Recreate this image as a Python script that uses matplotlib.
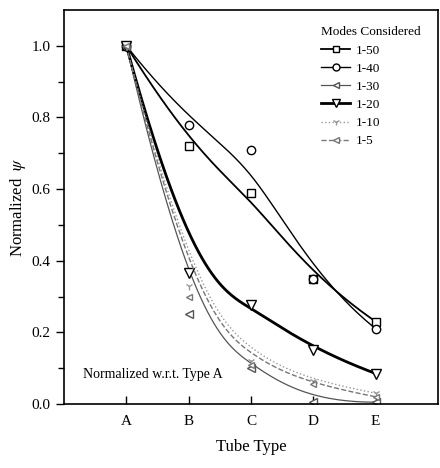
import numpy as np
import matplotlib
matplotlib.use('Agg')
import matplotlib.pyplot as plt

plt.rcParams['font.family'] = ['Liberation Serif', 'DejaVu Serif']
plt.rcParams['mathtext.fontset'] = 'stix'

# Dados
tipos = ['A', 'B', 'C', 'D', 'E']
modos = ['1-50', '1-40', '1-30', '1-20', '1-10', '1-5']
psi_50 = [1.0, 0.72, 0.59, 0.35, 0.23]
psi_40 = [1.0, 0.78, 0.71, 0.35, 0.21]
psi_30 = [1.0, 0.25, 0.10, 0.005, 0.005]
psi_20 = [1.0, 0.365, 0.275, 0.15, 0.085]
psi_10 = [1.0, 0.33, 0.12, 0.065, 0.03]
psi_5 = [1.0, 0.30, 0.11, 0.055, 0.02]


# B-spline cúbica com pontos de controle (como a linha "B-Spline" do Origin)
def bspline(px, py, n=200):
    px = np.asarray(px, float)
    py = np.asarray(py, float)
    k = 3
    m = len(px)
    knots = np.concatenate([np.zeros(k), np.arange(m - k + 1), np.full(k, m - k)])
    ts = np.linspace(0, m - k, n)
    xs, ys = [], []
    for t in ts:
        i = np.searchsorted(knots, t, side='right') - 1
        i = min(max(i, k), m - 1)
        dx = [px[j + i - k] for j in range(k + 1)]
        dy = [py[j + i - k] for j in range(k + 1)]
        for r in range(1, k + 1):
            for j in range(k, r - 1, -1):
                den = knots[j + 1 + i - r] - knots[j + i - k]
                a = 0 if den == 0 else (t - knots[j + i - k]) / den
                dx[j] = (1 - a) * dx[j - 1] + a * dx[j]
                dy[j] = (1 - a) * dy[j - 1] + a * dy[j]
        xs.append(dx[k])
        ys.append(dy[k])
    return np.array(xs), np.array(ys)


x = np.arange(1, len(tipos) + 1)

estilos = [
    (psi_50, dict(color='black', lw=1.3, ls='-', marker='s', ms=6)),
    (psi_40, dict(color='black', lw=1.0, ls='-', marker='o', ms=6)),
    (psi_30, dict(color='#555555', lw=0.9, ls='-', marker='<', ms=6)),
    (psi_20, dict(color='black', lw=2.0, ls='-', marker='v', ms=7)),
    (psi_10, dict(color='#999999', lw=1.0, ls=':', marker='1', ms=6)),
    (psi_5, dict(color='#777777', lw=1.0, ls='--', marker='<', ms=5)),
]

fig = plt.figure(figsize=(4.4, 4.68), dpi=100)
ax = fig.add_axes([0.1455, 0.1368, 0.85, 0.842])

for (vals, st), nome in zip(estilos, modos):
    cx, cy = bspline(x, vals)
    ax.plot(cx, cy, color=st['color'], lw=st['lw'], ls=st['ls'])
    ax.plot(x, vals, ls='none', marker=st['marker'], ms=st['ms'],
            mfc='white', mec=st['color'], mew=1.0)
    ax.plot([], [], color=st['color'], lw=st['lw'], ls=st['ls'],
            marker=st['marker'], ms=st['ms'] - 1, mfc='white', mec=st['color'],
            label=nome)

ax.set_xlim(0, 6)
ax.set_ylim(0.0, 1.1)
ax.set_xticks(x)
ax.set_xticklabels(tipos)
ax.set_yticks(np.arange(0, 1.01, 0.2))
ax.set_yticks(np.arange(0.1, 1.1, 0.2), minor=True)
ax.yaxis.set_major_formatter(matplotlib.ticker.FormatStrFormatter('%.1f'))
ax.tick_params(axis='y', direction='out', length=6, width=1, labelsize=11)
ax.tick_params(axis='y', which='minor', direction='out', length=4, width=1)
ax.tick_params(axis='x', direction='in', length=6, width=1, labelsize=11, pad=8)
for s in ax.spines.values():
    s.set_linewidth(1.2)

ax.set_xlabel('Tube Type', fontsize=12, labelpad=8)
ax.set_ylabel(r'Normalized  $\psi$', fontsize=12, labelpad=3)
ax.text(0.3, 0.073, 'Normalized w.r.t. Type A', fontsize=10)

leg = ax.legend(title='Modes Considered', loc='upper left', frameon=False,
                fontsize=9.5, title_fontsize=9.5, handlelength=2.2,
                handletextpad=0.4, labelspacing=0.45, borderpad=0,
                bbox_to_anchor=(0.67, 0.975))
leg._legend_box.align = 'left'

fig.savefig('out.png', dpi=100)
